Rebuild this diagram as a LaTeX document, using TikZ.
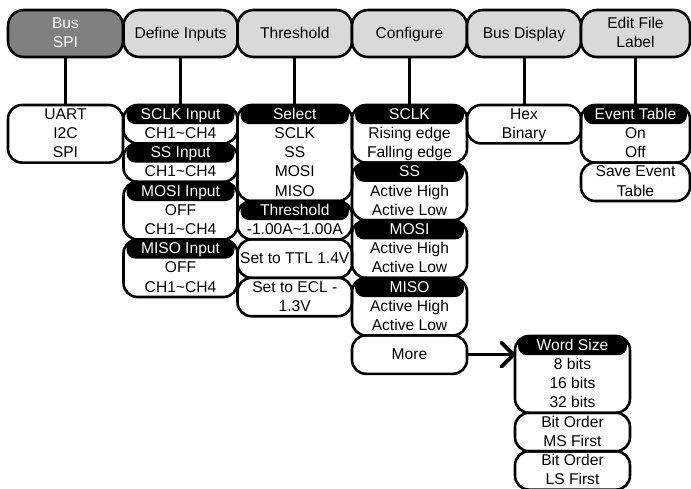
\documentclass[tikz,border=0pt]{standalone}
\usepackage{fontspec}
\setmainfont{Liberation Sans}
\usetikzlibrary{calc}
\definecolor{topgray}{HTML}{D9D9D9}
\definecolor{busgray}{HTML}{808080}
\newcommand\st{\rule[-5pt]{0pt}{19.2pt}}
\newcommand\fsz{\fontsize{15.6}{19.2}\selectfont}
\newcommand\tl{\textasciitilde}
\begin{document}
\begin{tikzpicture}[x=1pt,y=-1pt,
  topbox/.style={draw, line width=2.6pt, rounded corners=16pt, fill=topgray,
    minimum width=#1, minimum height=47pt, inner sep=0pt, outer sep=0pt,
    align=center, font=\fsz},
  lowbox/.style={draw, line width=2.6pt, rounded corners=14pt, minimum width=#1,
    inner sep=0pt, outer sep=0pt, align=center, font=\fsz, anchor=north},
  hdr/.style={fill=black, text=white, rounded corners=9pt, minimum width=#1,
    minimum height=19.2pt, inner sep=0pt, outer sep=0pt, anchor=north, font=\fsz},
  conn/.style={line width=3pt},
  barb/.style={line width=3.8pt, line cap=round, line join=round}]
\useasboundingbox (0,0) rectangle (691,488);

% top row
\node[topbox=115, fill=busgray, text=white] (bus) at (65.5,33.5) {\st Bus\\\st SPI};
\node[topbox=114] (def) at (180.5,33.5) {\st Define Inputs};
\node[topbox=114.5] (thrt) at (294.75,33.5) {\st Threshold};
\node[topbox=115] (cfg) at (409.5,33.5) {\st Configure};
\node[topbox=114] (disp) at (524,33.5) {\st Bus Display};
\node[topbox=109] (edit) at (635.5,33.5) {\st Edit File\\\st Label};

% column 1
\node[lowbox=115] (uart) at (65.5,105) {\st UART\\\st I2C\\\st SPI};

% column 2
\node[lowbox=114] (sclkin) at (180.5,105) {\st\\\st CH1\tl CH4};
\node[hdr=108] (hsclkin) at (sclkin.north) {\st SCLK Input};
\node[lowbox=114] (ssin) at (sclkin.south) {\st\\\st CH1\tl CH4};
\node[hdr=108] (hssin) at (ssin.north) {\st SS Input};
\node[lowbox=114] (mosiin) at (ssin.south) {\st\\\st OFF\\\st CH1\tl CH4};
\node[hdr=108] (hmosiin) at (mosiin.north) {\st MOSI Input};
\node[lowbox=114] (misoin) at (mosiin.south) {\st\\\st OFF\\\st CH1\tl CH4};
\node[hdr=108] (hmisoin) at (misoin.north) {\st MISO Input};

% column 3
\node[lowbox=114.5] (sel) at (294.75,105) {\st\\\st SCLK\\\st SS\\\st MOSI\\\st MISO};
\node[hdr=108.5] (hsel) at (sel.north) {\st Select};
\node[lowbox=114.5] (thr) at (sel.south) {\st\\\st -1.00A\tl 1.00A};
\node[hdr=108.5] (hthr) at (thr.north) {\st Threshold};
\node[lowbox=114.5, minimum height=38.4pt] (ttl) at (thr.south) {\st Set to TTL 1.4V};
\node[lowbox=114.5] (ecl) at (ttl.south) {\st Set to ECL -\\\st 1.3V};

% column 4
\node[lowbox=115] (sclkc) at (409.5,105) {\st\\\st Rising edge\\\st Falling edge};
\node[hdr=109] (hsclkc) at (sclkc.north) {\st SCLK};
\node[lowbox=115] (ssc) at (sclkc.south) {\st\\\st Active High\\\st Active Low};
\node[hdr=109] (hssc) at (ssc.north) {\st SS};
\node[lowbox=115] (mosic) at (ssc.south) {\st\\\st Active High\\\st Active Low};
\node[hdr=109] (hmosic) at (mosic.north) {\st MOSI};
\node[lowbox=115] (misoc) at (mosic.south) {\st\\\st Active High\\\st Active Low};
\node[hdr=109] (hmisoc) at (misoc.north) {\st MISO};
\node[lowbox=115, minimum height=38.4pt] (more) at (misoc.south) {\st More};

% column 5
\node[lowbox=114] (hex) at (524,105) {\st Hex\\\st Binary};

% column 6
\node[lowbox=109] (evt) at (635.5,105) {\st\\\st On\\\st Off};
\node[hdr=103] (hevt) at (evt.north) {\st Event Table};
\node[lowbox=109] (save) at (evt.south) {\st Save Event\\\st Table};

% more sub-menu
\node[lowbox=115] (ws) at (572.5,336) {\st\\\st 8 bits\\\st 16 bits\\\st 32 bits};
\node[hdr=109] (hws) at (ws.north) {\st Word Size};
\node[lowbox=115] (msf) at (ws.south) {\st Bit Order\\\st MS First};
\node[lowbox=115] (lsf) at (msf.south) {\st Bit Order\\\st LS First};

% connectors
\draw[conn] (bus.south) -- (uart.north);
\draw[conn] (def.south) -- (sclkin.north);
\draw[conn] (thrt.south) -- (sel.north);
\draw[conn] (cfg.south) -- (sclkc.north);
\draw[conn] (disp.south) -- (hex.north);
\draw[conn] (edit.south) -- (evt.north);
\coordinate (tip) at ($(more.east -| ws.west)+(-1.5,0)$);
\draw[line width=3.6pt] (more.east) -- (tip);
\draw[barb] ($(tip)+(-12,-12)$) -- (tip) -- ($(tip)+(-12,12)$);
\end{tikzpicture}
\end{document}
